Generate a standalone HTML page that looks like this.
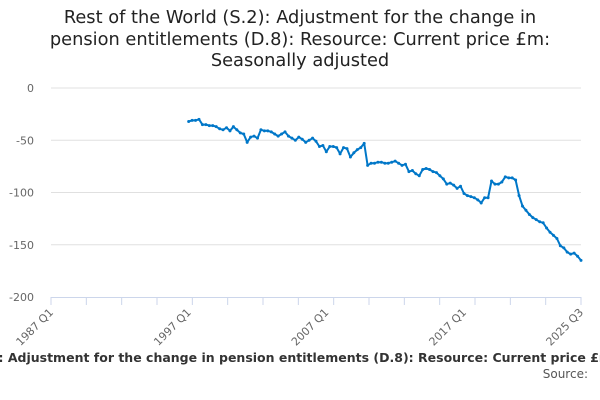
<!DOCTYPE html>
<html><head><meta charset="utf-8">
<style>
body{margin:0;width:600px;height:400px;background:#fff;font-family:"DejaVu Sans","Liberation Sans",sans-serif;overflow:hidden;position:relative}
#title{position:absolute;top:7px;left:0;width:600px;text-align:center;font-size:17.8px;line-height:21.5px;color:#222}
#foot{position:absolute;top:350px;left:0;width:600px;display:flex;justify-content:center;white-space:nowrap;font-size:12.5px;font-weight:bold;color:#333;overflow:hidden}
#foot span{flex:none}
#src{position:absolute;top:367px;right:12px;font-size:12px;color:#555}
</style></head><body>
<div id="title">Rest of the World (S.2): Adjustment for the change in<br>pension entitlements (D.8): Resource: Current price £m:<br>Seasonally adjusted</div>
<svg id="chart" width="600" height="400" style="position:absolute;top:0;left:0"></svg>
<div id="foot"><span>Rest of the World (S.2): Adjustment for the change in pension entitlements (D.8): Resource: Current price £m: Seasonally adjusted</span></div>
<div id="src">Source:</div>
<script>
const startIndex = 40; // 1997 Q1 (quarters since 1987 Q1)
const values = [-32,-31,-31,-30,-35,-35,-36,-36,-37,-39,-40,-38,-41,-37,-40,-43,-44,-52,-47,-46,
-48,-40,-41,-41,-42,-44,-46,-44,-42,-46,-48,-50,-47,-49,-52,-50,-48,-51,-56,-55,
-61,-56,-56,-57,-63,-57,-58,-66,-62,-59,-57,-53,
-74,-72,-72,-71,-71,-72,-72,-71,-70,-72,-74,-73,-80,-79,-82,-84,-78,-77,-78,-80,
-81,-84,-87,-92,-91,-93,-96,-94,-101,-103,-104,-105,-107,-110,-105,-105,-89,-92,-92,-90,
-85,-86,-86,-88,-103,-113,-117,-121,-124,-126,-128,-129,-134,-138,-141,-144,-151,-153,-157,-159,-158,-161,-165];
const yTicks = [0,-50,-100,-150,-200];
const xLabels = ["1987 Q1","1997 Q1","2007 Q1","2017 Q1","2025 Q3"];
const xLabelIdx = [0,40,80,120,154];
const totalQ = 154;
const svg = document.getElementById('chart');
const NS='http://www.w3.org/2000/svg';
const x0=51,x1=581,y0=88,y1=297;
const X=i=>x0+(x1-x0)*i/totalQ;
const Y=v=>y0+(y1-y0)*(0-v)/200;
function mk(t,a){const e=document.createElementNS(NS,t);for(const k in a)e.setAttribute(k,a[k]);svg.appendChild(e);return e;}
yTicks.forEach(v=>{
  if(v>-200){const g=mk('line',{x1:x0,x2:x1,y1:Y(v),y2:Y(v),stroke:'#e0e0e0','stroke-width':1});
  
  }
  const t=mk('text',{x:34,y:Y(v)+4,'text-anchor':'end','font-size':11,fill:'#666','font-family':'DejaVu Sans, sans-serif'});
  t.textContent=v;
  
  
});
const ax=mk('line',{x1:x0,x2:x1,y1:y1+0.5,y2:y1+0.5,stroke:'#ccd6eb','stroke-width':1});


for(let i=0;i<=totalQ;i+=10.267){
  const tk=mk('line',{x1:X(i),x2:X(i),y1:y1,y2:y1+8,stroke:'#ccd6eb'});
  
  
}
const tkEnd=mk('line',{x1:x1,x2:x1,y1:y1,y2:y1+8,stroke:'#ccd6eb'});


xLabels.forEach((l,k)=>{
  const xx=X(xLabelIdx[k]),yy=y1+16;
  const t=mk('text',{x:xx+3,y:yy,'text-anchor':'end','font-size':11,fill:'#666','font-family':'DejaVu Sans, sans-serif',transform:`rotate(-45 ${xx+3} ${yy})`});
  t.textContent=l;
  
  
});
const pts=values.map((v,i)=>X(startIndex+i).toFixed(1)+','+Y(v).toFixed(1)).join(' ');
const line=mk('polyline',{points:pts,fill:'none',stroke:'#0077c8','stroke-width':2,'stroke-linejoin':'round'});


values.forEach((v,i)=>{
  const c=mk('circle',{cx:X(startIndex+i),cy:Y(v),r:1.5,fill:'#0077c8'});
  
  
});
</script>
</body></html>
